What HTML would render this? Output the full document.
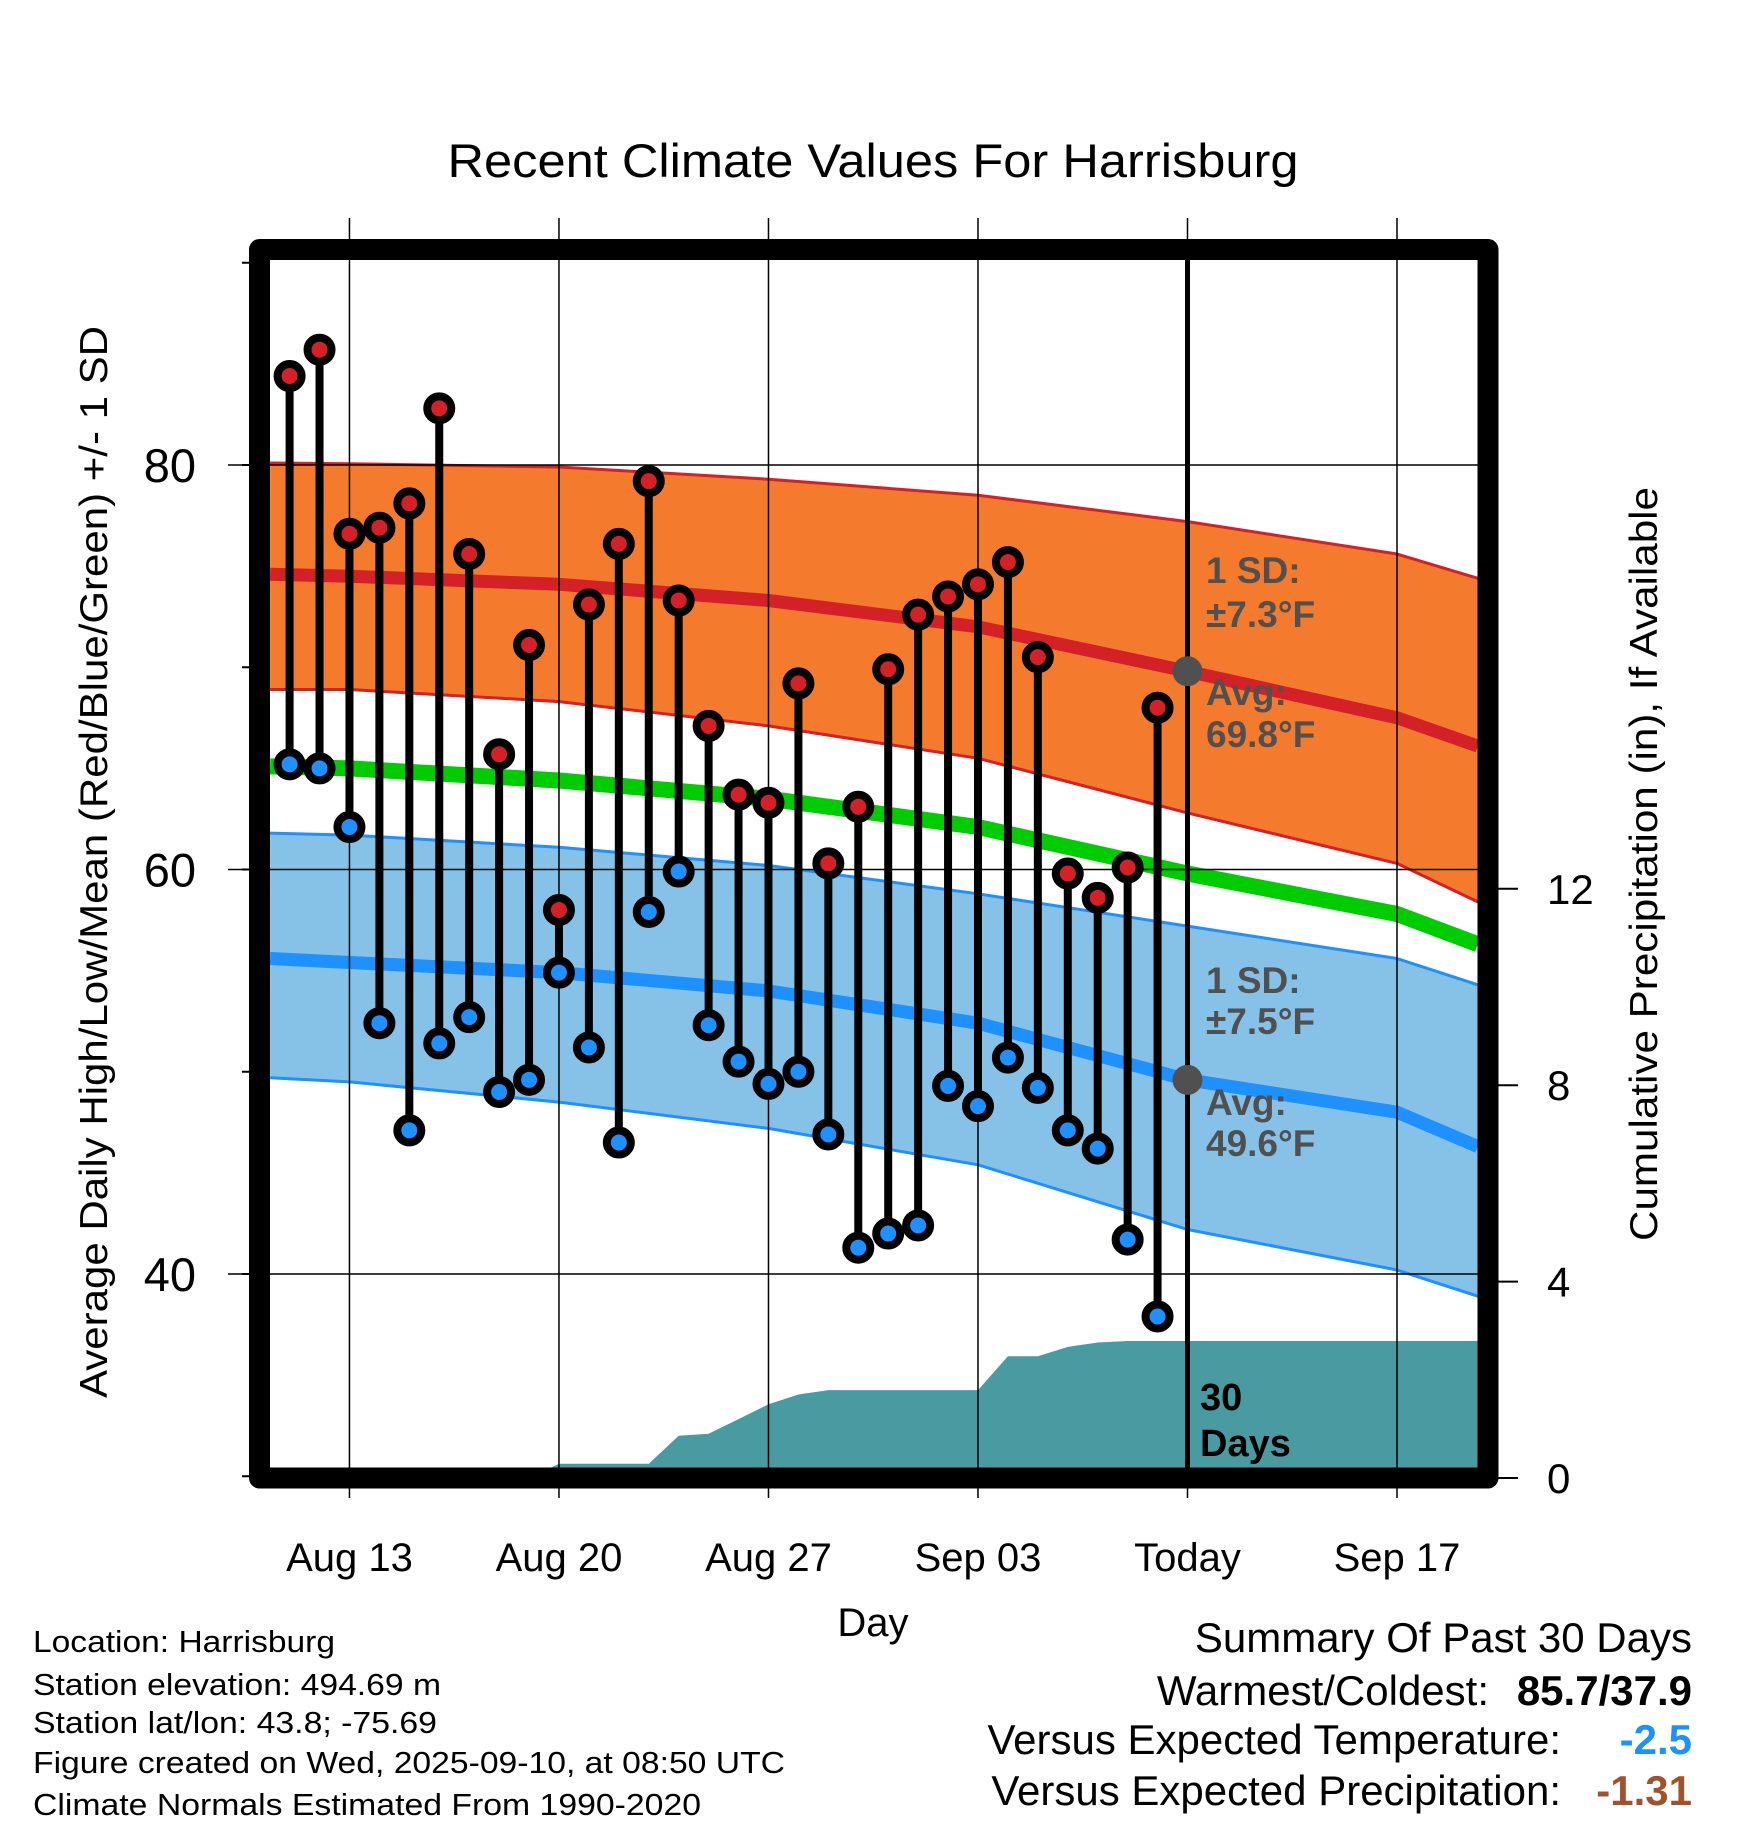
<!DOCTYPE html>
<html><head><meta charset="utf-8"><style>
html,body{margin:0;padding:0;background:#fff;}
svg{display:block;font-family:"Liberation Sans",sans-serif;}
</style></head><body>
<svg id="chart" width="1748" height="1828" viewBox="0 0 1748 1828" xmlns="http://www.w3.org/2000/svg">
<g id="bands"></g>
<g id="precip"></g>
<g id="grid"></g>
<g id="marks"></g>
<g id="anno"></g>
<rect x="259.5" y="249.5" width="1228.5" height="1228.5" fill="none" stroke="#000" stroke-width="21" stroke-linejoin="round"/>
<g id="axes"></g>
<text x="873" y="177" font-size="47" text-anchor="middle" textLength="851" lengthAdjust="spacingAndGlyphs">Recent Climate Values For Harrisburg</text>
<text transform="translate(107,862) rotate(-90)" font-size="39" text-anchor="middle" textLength="1072" lengthAdjust="spacingAndGlyphs">Average Daily High/Low/Mean (Red/Blue/Green) +/- 1 SD</text>
<text transform="translate(1657,864) rotate(-90)" font-size="39" text-anchor="middle" textLength="754" lengthAdjust="spacingAndGlyphs">Cumulative Precipitation (in), If Available</text>
<text x="873" y="1636" font-size="40" text-anchor="middle">Day</text>
<g font-size="31">
<text x="33" y="1652" textLength="302" lengthAdjust="spacingAndGlyphs">Location: Harrisburg</text>
<text x="33" y="1695" textLength="408" lengthAdjust="spacingAndGlyphs">Station elevation: 494.69 m</text>
<text x="33" y="1733" textLength="404" lengthAdjust="spacingAndGlyphs">Station lat/lon: 43.8; -75.69</text>
<text x="33" y="1773" textLength="752" lengthAdjust="spacingAndGlyphs">Figure created on Wed, 2025-09-10, at 08:50 UTC</text>
<text x="33" y="1815" textLength="668" lengthAdjust="spacingAndGlyphs">Climate Normals Estimated From 1990-2020</text>
</g>
<g font-size="42" text-anchor="end">
<text x="1692" y="1652">Summary Of Past 30 Days</text>
<text x="1489" y="1705">Warmest/Coldest:</text>
<text x="1692" y="1705" font-weight="bold">85.7/37.9</text>
<text x="1561" y="1754">Versus Expected Temperature:</text>
<text x="1692" y="1754" font-weight="bold" fill="#1e90ff">-2.5</text>
<text x="1561" y="1805">Versus Expected Precipitation:</text>
<text x="1692" y="1805" font-weight="bold" fill="#a0522d">-1.31</text>
</g>
</svg>
<script>
// ---- data ----
const highs = [84.4,85.7,76.6,76.9,78.1,82.8,75.6,65.7,71.1,58.0,73.1,76.1,79.2,73.3,67.1,63.7,63.3,69.2,60.3,63.1,69.9,72.6,73.5,74.1,75.2,70.5,59.8,58.6,60.1,68.0];
const lows  = [65.2,65.0,62.1,52.4,47.1,51.4,52.7,49.0,49.6,54.9,51.2,46.5,57.9,59.9,52.3,50.5,49.4,50.0,46.9,41.3,42.0,42.4,49.3,48.3,50.7,49.2,47.1,46.2,41.7,37.9];
const precip = [0,0,0,0,0,0,0,0,0,0.29,0.29,0.29,0.29,0.86,0.9,1.2,1.5,1.7,1.79,1.79,1.79,1.79,1.79,1.79,2.48,2.48,2.67,2.76,2.79,2.79];
const normDays   = [-0.65,2,9,16,23,30,37,39.7];
const highUpper  = [80.1,80.06,79.9,79.3,78.5,77.2,75.6,74.4];
const highMean   = [74.6,74.5,74.1,73.3,72.0,69.8,67.5,66.1];
const highLower  = [68.9,68.9,68.3,67.1,65.5,62.8,60.3,58.4];
const meanNormal = [65.1,65.0,64.4,63.5,62.1,59.8,57.8,56.3];
const lowUpper   = [61.8,61.7,61.1,60.2,58.8,57.2,55.6,54.3];
const lowMean    = [55.6,55.4,54.9,54.0,52.4,49.6,48.0,46.3];
const lowLower   = [49.7,49.5,48.5,47.2,45.4,42.2,40.2,38.9];
const xTickDays  = [2,9,16,23,30,37];
const xTickLabels= ["Aug 13","Aug 20","Aug 27","Sep 03","Today","Sep 17"];
const yTicks     = [40,60,80];
const yMinorTicks= [30,50,70,90];
const pTicks     = [0,4,8,12];
const todayDay   = 30;
const todayHigh  = 69.8, todayLow = 49.6;

// ---- scales ----
const X = d => 289.6 + d*29.93;
const Y = v => 465 - (v-80)*20.225;
const P = p => 1478 - p*49.1;
const NS="http://www.w3.org/2000/svg";
function mk(tag, parent, attrs){const e=document.createElementNS(NS,tag);for(const k in attrs)e.setAttribute(k,attrs[k]);parent.appendChild(e);return e;}
const pts = (xs, ys) => xs.map((d,i)=>X(d).toFixed(1)+","+Y(ys[i]).toFixed(1));
const bands=document.getElementById('bands');
function band(up, lo, fill, name){
  const a=pts(normDays,up), b=pts(normDays,lo).reverse();
  const e=mk('polygon',bands,{points:a.concat(b).join(' '),fill:fill});
  
  
}
function line(ys, color, w, name){
  const e=mk('polyline',bands,{points:pts(normDays,ys).join(' '),fill:'none',stroke:color,'stroke-width':w,'stroke-linejoin':'round'});
  
  
}
band(highUpper, highLower, '#f47a2e', 'high-sd-band');
band(lowUpper, lowLower, '#86c1e8', 'low-sd-band');
line(highUpper,'#d42027',3,'high-upper-line');
line(highLower,'#d42027',3,'high-lower-line');
line(lowUpper,'#1e90ff',3,'low-upper-line');
line(lowLower,'#1e90ff',3,'low-lower-line');
line(highMean,'#d42027',13,'normal-high-line');
line(lowMean,'#1e90ff',13,'normal-low-line');
line(meanNormal,'#00cc00',16,'normal-mean-line');

// precip area
const pg=document.getElementById('precip');
let pp=[X(0)+","+P(0)];
precip.forEach((v,i)=>pp.push(X(i).toFixed(1)+","+P(v).toFixed(1)));
pp.push("1478,"+P(precip[precip.length-1]).toFixed(1));
pp.push("1478,"+P(0));
const area=mk('polygon',pg,{points:pp.join(' '),fill:'#4a9aa2'});



// grid
const grid=document.getElementById('grid');
xTickDays.forEach(d=>{
  const g=mk('line',grid,{x1:X(d),x2:X(d),y1:218,y2:1498,stroke:'#000','stroke-width':1.5});
  
  
});
yTicks.forEach(v=>{
  const g=mk('line',grid,{x1:228,x2:1488,y1:Y(v),y2:Y(v),stroke:'#000','stroke-width':1.5});
  
  
});

// marks
const marks=document.getElementById('marks');
highs.forEach((h,i)=>{
  const s=mk('line',marks,{x1:X(i),x2:X(i),y1:Y(h),y2:Y(lows[i]),stroke:'#000','stroke-width':8});
  
  
});
highs.forEach((h,i)=>{
  [[h,'#d42027','high-marker'],[lows[i],'#1e90ff','low-marker']].forEach(([v,c,n])=>{
    const o=mk('circle',marks,{cx:X(i),cy:Y(v),r:12,fill:c,stroke:'#000','stroke-width':8});
    
    
  });
});

// annotations
const anno=document.getElementById('anno');
const tl=mk('line',anno,{x1:X(todayDay),x2:X(todayDay),y1:255,y2:1475,stroke:'#000','stroke-width':5});


[todayHigh,todayLow].forEach(v=>{
  const c=mk('circle',anno,{cx:X(todayDay),cy:Y(v),r:15,fill:'#505050'});
  
  
});
function txt(parent,x,y,s,attrs,name){const t=mk('text',parent,attrs);t.setAttribute('x',x);t.setAttribute('y',y);t.textContent=s;
  
  
  return t;}
const la={'font-size':37,'font-weight':'bold',fill:'#505050'};
txt(anno,1206,583,'1 SD:',la,'high-sd-label');
txt(anno,1206,627,'\u00b17.3\u00b0F',la,'high-sd-value');
txt(anno,1206,705,'Avg:',la,'high-avg-label');
txt(anno,1206,747,'69.8\u00b0F',la,'high-avg-value');
txt(anno,1206,993,'1 SD:',la,'low-sd-label');
txt(anno,1206,1034,'\u00b17.5\u00b0F',la,'low-sd-value');
txt(anno,1206,1115,'Avg:',la,'low-avg-label');
txt(anno,1206,1156,'49.6\u00b0F',la,'low-avg-value');
const da={'font-size':38,'font-weight':'bold',fill:'#000'};
txt(anno,1200,1410,'30',da,'days-count-label');
txt(anno,1200,1456,'Days',da,'days-unit-label');

// axes
const axes=document.getElementById('axes');
yTicks.forEach(v=>{
  txt(axes,196,Y(v)+17,String(v),{'font-size':47,'text-anchor':'end'},'y-tick-label');
});
yTicks.concat(yMinorTicks).forEach(v=>{
  const t=mk('line',axes,{x1:242,x2:259,y1:Y(v),y2:Y(v),stroke:'#000','stroke-width':2});
  
  
});
pTicks.forEach(p=>{
  const t=mk('line',axes,{x1:1490,x2:1518,y1:P(p),y2:P(p),stroke:'#000','stroke-width':2});
  
  
  txt(axes,1547,P(p)+15,String(p),{'font-size':42},'y2-tick-label');
});
xTickDays.forEach((d,i)=>{
  txt(axes,X(d),1571,xTickLabels[i],{'font-size':40,'text-anchor':'middle'},'x-tick-label');
});
</script>
</body></html>
